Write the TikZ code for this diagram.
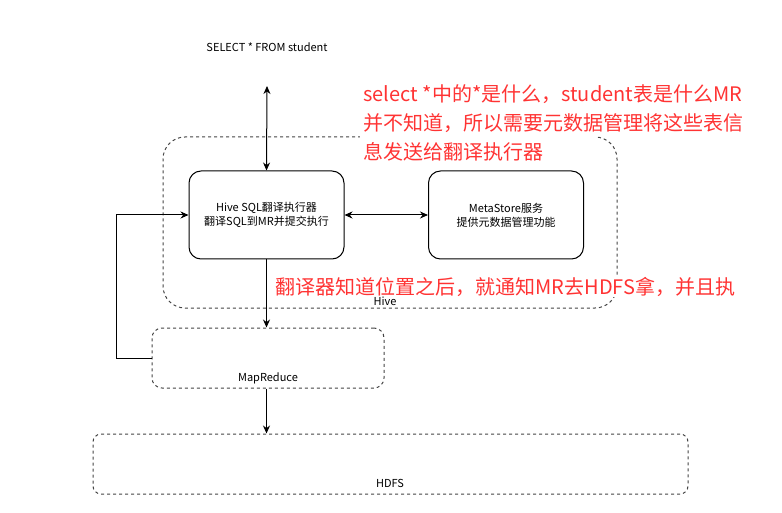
\documentclass[tikz,border=0pt]{standalone}
\usepackage{fontspec}
\setmainfont{Noto Sans CJK SC}
\usepackage{tikz}
\usetikzlibrary{arrows.meta,positioning}
\definecolor{HRed}{HTML}{FF3333}
\definecolor{HGray}{HTML}{444444}

\begin{document}
\begin{tikzpicture}[
  x=1pt,y=-1pt,line width=1pt,
  every node/.style={font=\fontsize{11}{14}\selectfont,inner sep=0pt},
  proc/.style={draw,rounded corners=12pt,minimum width=155pt,minimum height=88pt,
    align=center},
  layer/.style={draw=HGray,dash pattern=on 3pt off 3pt,rounded corners=10pt},
  note/.style={text=HRed,font=\fontsize{20}{29}\selectfont,align=left},
  a/.style={-{Stealth[length=8pt,width=7pt]}},
  aa/.style={{Stealth[length=8pt,width=7pt]}-{Stealth[length=8pt,width=7pt]}}
]
  \useasboundingbox (0,0) rectangle (782,513);

  % containers
  \node[layer,rounded corners=22pt,minimum width=454pt,minimum height=171pt]
    (hive) at (390,222.5) {};
  \node[layer,minimum width=232pt,minimum height=60pt] (mr) at (268,358) {};
  \node[layer,rounded corners=8pt,minimum width=595pt,minimum height=60pt]
    (hdfs) at (390.5,464) {};

  \node (query) at (267,47) {SELECT * FROM student};
  \coordinate (qend) at (267,86);

  \node[proc] (sql) at (266.5,215) {Hive SQL翻译执行器\\翻译SQL到MR并提交执行};
  \node[proc] (meta) at (506,215) {MetaStore服务\\提供元数据管理功能};

  % red notes, white behind them
  \fill[white] (360,130) rectangle (597,166);
  \node[note,anchor=north west] (why) at (363,84)
    {select *中的*是什么，student表是什么MR\\并不知道，所以需要元数据管理将这些表信\\息发送给翻译执行器};
  \node[note,fill=white,anchor=west] (how) at (275,287)
    {翻译器知道位置之后，就通知MR去HDFS拿，并且执};

  \node (hivelbl) at (385,301) {Hive};
  \node (mrlbl) at (268,378) {MapReduce};
  \node (hdfslbl) at (390,483) {HDFS};

  \draw[aa] (qend) -- (sql.north);
  \draw[aa] (sql) -- (meta);
  \draw[a] (sql.south) -- (mr.north -| sql.south);
  \draw[a] (mr.south -| sql.south) -- (hdfs.north -| sql.south);
  \draw[a] (mr.west) -- ++(-35,0) |- (sql.west);
\end{tikzpicture}
\end{document}
